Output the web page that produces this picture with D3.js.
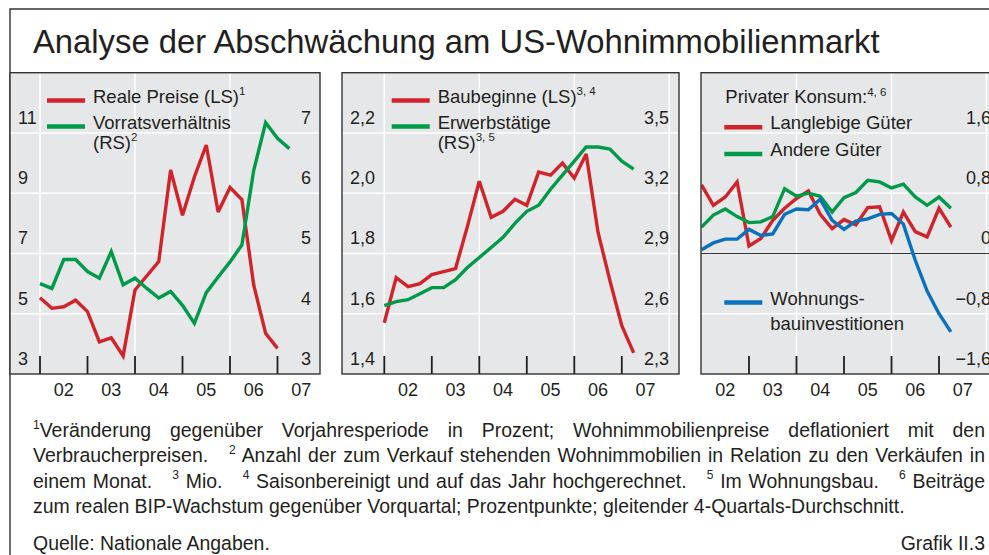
<!DOCTYPE html>
<html>
<head>
<meta charset="utf-8">
<script src="https://cdn.jsdelivr.net/npm/d3@7"></script>
<style>
  body { margin: 0; background: #fff; }
  svg text { font-family: "Liberation Sans", Arial, Helvetica, sans-serif; fill: #231f20; }
  svg text.fn { white-space: pre; }
</style>
</head>
<body>
<svg id="chart" width="989" height="555"></svg>
<script>
// quarterly observations, plotted at the start of each quarter
const quarters = ["2002Q1","2002Q2","2002Q3","2002Q4","2003Q1","2003Q2","2003Q3","2003Q4",
                  "2004Q1","2004Q2","2004Q3","2004Q4","2005Q1","2005Q2","2005Q3","2005Q4",
                  "2006Q1","2006Q2","2006Q3","2006Q4","2007Q1","2007Q2"];

// panel 1
const realePreise = [5.53,5.18,5.23,5.45,5.07,4.07,4.20,3.60,5.79,6.26,6.73,9.77,8.27,9.54,10.60,8.38,9.19,8.79,5.95,4.35,3.85];
const vorrat      = [4.50,4.42,4.90,4.90,4.70,4.59,5.03,4.48,4.59,4.42,4.26,4.37,4.14,3.84,4.35,4.61,4.86,5.14,6.38,7.17,6.91,6.74];
// panel 2
const baubeginne     = [1.57,1.72,1.69,1.70,1.73,1.74,1.75,1.89,2.04,1.92,1.94,1.98,1.96,2.07,2.06,2.10,2.05,2.13,1.87,1.71,1.56,1.47];
const erwerbstaetige = [2.64,2.66,2.67,2.70,2.73,2.73,2.77,2.83,2.88,2.93,2.98,3.05,3.11,3.14,3.22,3.29,3.36,3.43,3.43,3.42,3.36,3.32];
// panel 3
const langlebige = [0.91,0.64,0.75,0.95,0.10,0.20,0.44,0.60,0.73,0.83,0.52,0.33,0.45,0.38,0.61,0.62,0.17,0.55,0.29,0.22,0.60,0.35];
const andere     = [0.35,0.51,0.59,0.49,0.41,0.42,0.49,0.86,0.76,0.80,0.76,0.55,0.74,0.81,0.97,0.95,0.87,0.92,0.75,0.64,0.75,0.60];
const wohnbau    = [0.05,0.14,0.19,0.19,0.32,0.24,0.26,0.52,0.59,0.58,0.72,0.44,0.32,0.43,0.46,0.52,0.53,0.39,-0.09,-0.50,-0.80,-1.04];

// axes
const years = [2002, 2003, 2004, 2005, 2006, 2007];
const yearLabels = ["02", "03", "04", "05", "06", "07"];
const p1LeftTicks = [3, 5, 7, 9, 11], p1RightTicks = [3, 4, 5, 6, 7];
const p2LeftTicks = [1.4, 1.6, 1.8, 2.0, 2.2], p2RightTicks = [2.3, 2.6, 2.9, 3.2, 3.5];
const p3RightTicks = [-1.6, -0.8, 0, 0.8, 1.6];

const titleText = "Analyse der Abschwächung am US-Wohnimmobilienmarkt";
const footnotes = [
  [{sup: "1"}, {t: "Veränderung gegenüber Vorjahresperiode in Prozent; Wohnimmobilienpreise deflationiert mit den"}],
  [{t: "Verbraucherpreisen.   "}, {sup: "2"}, {t: " Anzahl der zum Verkauf stehenden Wohnimmobilien in Relation zu den Verkäufen in"}],
  [{t: "einem Monat.   "}, {sup: "3"}, {t: " Mio.   "}, {sup: "4"}, {t: " Saisonbereinigt und auf das Jahr hochgerechnet.   "}, {sup: "5"}, {t: " Im Wohnungsbau.   "}, {sup: "6"}, {t: " Beiträge"}],
  [{t: "zum realen BIP-Wachstum gegenüber Vorquartal; Prozentpunkte; gleitender 4-Quartals-Durchschnitt."}]
];
const sourceText = "Quelle: Nationale Angaben.";
const graphNo = "Grafik II.3";

// ---------------------------------------------------------------------------
const C = { red: "#d1232a", green: "#009a49", blue: "#0a71bd", ink: "#231f20", bg: "#e6e7e8", frame: "#333" };
const TOP = 72.7, BOTTOM = 374, YEAR_PX = 47.5, TICK_H = 18;
const tq = quarters.map(q => +q.slice(0, 4) + (+q.slice(5) - 1) / 4);

const de = d3.formatLocale({ decimal: ",", thousands: ".", grouping: [3], currency: ["", "€"], minus: "\u2212" });
const fInt = de.format("d"), fOne = de.format(".1f");
const fZero = v => v === 0 ? "0" : fOne(v);

const svg = d3.select("#chart");

// helper: text with raised superscripts
function rich(sel, parts, fs) {
  let raised = false;
  parts.forEach(p => {
    const ts = sel.append("tspan");
    if (p.sup) {
      ts.attr("font-size", fs * 0.62).attr("dy", raised ? 0 : -fs * 0.42).text(p.sup);
      raised = true;
    } else {
      ts.attr("dy", raised ? fs * 0.42 : 0).text(p.t);
      raised = false;
    }
  });
}

// outer frame (right and bottom edges are outside the picture)
svg.append("path")
  .attr("d", "M10,1000 V9 H1200")
  .attr("fill", "none").attr("stroke", C.frame).attr("stroke-width", 1.4);

// title, fitted to its width in the reference
const title = svg.append("text").attr("x", 33).attr("y", 53).attr("font-size", 30).text(titleText);
title.attr("font-size", 30 * 847 / title.node().getComputedTextLength());

const panels = [
  {
    x0: 10, x1: 320, x2002: 40, labelR: 311,
    left:  { domain: [3, 13], ticks: p1LeftTicks, fmt: fInt },
    right: { domain: [3, 8],  ticks: p1RightTicks, fmt: fInt },
    series: [
      { values: realePreise, axis: "left",  color: C.red },
      { values: vorrat,      axis: "right", color: C.green }
    ],
    legendX: 47,
    legend: [
      { color: C.red,   y: 102.5, lines: [[{t: "Reale Preise (LS)"}, {sup: "1"}]] },
      { color: C.green, y: 128.5, lines: [[{t: "Vorratsverhältnis"}], [{t: "(RS)"}, {sup: "2"}]], lead: 20 }
    ]
  },
  {
    x0: 342, x1: 679, x2002: 384.3, labelR: 669,
    left:  { domain: [1.4, 2.4], ticks: p2LeftTicks, fmt: fOne },
    right: { domain: [2.3, 3.8], ticks: p2RightTicks, fmt: fOne },
    series: [
      { values: baubeginne,     axis: "left",  color: C.red },
      { values: erwerbstaetige, axis: "right", color: C.green }
    ],
    legendX: 391.7,
    legend: [
      { color: C.red,   y: 102.5, lines: [[{t: "Baubeginne (LS)"}, {sup: "3, 4"}]] },
      { color: C.green, y: 128.5, lines: [[{t: "Erwerbstätige"}], [{t: "(RS)"}, {sup: "3, 5"}]], lead: 20 }
    ]
  },
  {
    x0: 701, x1: 1002, x2002: 701.5, labelR: 991,
    left: null,
    right: { domain: [-1.6, 2.4], ticks: p3RightTicks, fmt: fZero },
    zeroLine: true,
    series: [
      { values: langlebige, axis: "right", color: C.red },
      { values: andere,     axis: "right", color: C.green },
      { values: wohnbau,    axis: "right", color: C.blue }
    ],
    legendX: 724.3,
    legend: [
      { color: null,    y: 103.3, lines: [[{t: "Privater Konsum:"}, {sup: "4, 6"}]] },
      { color: C.red,   y: 129.3, lines: [[{t: "Langlebige Güter"}]] },
      { color: C.green, y: 156,   lines: [[{t: "Andere Güter"}]] },
      { color: C.blue,  y: 304.5, lines: [[{t: "Wohnungs-"}], [{t: "bauinvestitionen"}]], lead: 25.5 }
    ]
  }
];

panels.forEach((p, i) => {
  const g = svg.append("g");
  const x = d3.scaleLinear().domain([2002, 2008]).range([p.x2002, p.x2002 + 6 * YEAR_PX]);
  const yL = p.left ? d3.scaleLinear().domain(p.left.domain).range([BOTTOM, TOP]) : null;
  const yR = d3.scaleLinear().domain(p.right.domain).range([BOTTOM, TOP]);
  const inside = v => v > p.x0 + 2 && v < p.x1 - 2;

  g.append("rect").attr("x", p.x0).attr("y", TOP).attr("width", p.x1 - p.x0).attr("height", BOTTOM - TOP).attr("fill", C.bg);

  // horizontal grid (right axis ticks share positions with left ones)
  g.selectAll(".hg").data(p.right.ticks.slice(1)).join("line")
    .attr("x1", p.x0).attr("x2", p.x1)
    .attr("y1", d => yR(d)).attr("y2", d => yR(d))
    .attr("stroke", "#fff").attr("stroke-width", 1.5);

  // vertical grid on even years
  g.selectAll(".vg").data([2002, 2004, 2006, 2008].filter(d => inside(x(d)))).join("line")
    .attr("x1", d => x(d)).attr("x2", d => x(d))
    .attr("y1", TOP).attr("y2", BOTTOM - TICK_H)
    .attr("stroke", "#fff").attr("stroke-width", 1.5);

  if (p.zeroLine) {
    g.append("line").attr("x1", p.x0).attr("x2", p.x1).attr("y1", yR(0)).attr("y2", yR(0))
      .attr("stroke", C.frame).attr("stroke-width", 1.1);
  }

  // year ticks
  g.selectAll(".tk").data(years.filter(d => inside(x(d)))).join("line")
    .attr("x1", d => x(d)).attr("x2", d => x(d))
    .attr("y1", BOTTOM).attr("y2", BOTTOM - TICK_H)
    .attr("stroke", C.ink).attr("stroke-width", 1.8);

  // series
  const clipId = "clip" + i;
  g.append("clipPath").attr("id", clipId).append("rect")
    .attr("x", p.x0).attr("y", TOP).attr("width", p.x1 - p.x0).attr("height", BOTTOM - TOP);
  p.series.forEach(s => {
    const y = s.axis === "left" ? yL : yR;
    const line = d3.line().x((d, j) => x(tq[j])).y(d => y(d));
    g.append("path").datum(s.values)
      .attr("clip-path", `url(#${clipId})`)
      .attr("d", line)
      .attr("fill", "none").attr("stroke", s.color).attr("stroke-width", 3.4)
      .attr("stroke-linejoin", "miter").attr("stroke-miterlimit", 3);
  });

  // border
  g.append("rect").attr("x", p.x0).attr("y", TOP).attr("width", p.x1 - p.x0).attr("height", BOTTOM - TOP)
    .attr("fill", "none").attr("stroke", C.frame).attr("stroke-width", 1.4);

  // axis labels sit just above their grid line
  if (p.left) {
    g.selectAll(".yl").data(p.left.ticks).join("text")
      .attr("x", p.x0 + 8).attr("y", d => yL(d) - 9)
      .attr("font-size", 18).text(p.left.fmt);
  }
  g.selectAll(".yr").data(p.right.ticks).join("text")
    .attr("x", p.labelR).attr("y", d => yR(d) - 9)
    .attr("text-anchor", "end").attr("font-size", 18).text(p.right.fmt);

  g.selectAll(".xl").data(years).join("text")
    .attr("x", d => x(d + 0.5)).attr("y", 395.5)
    .attr("text-anchor", "middle").attr("font-size", 18)
    .text((d, j) => yearLabels[j]);

  // legend
  p.legend.forEach(item => {
    if (item.color) {
      g.append("line")
        .attr("x1", p.legendX).attr("x2", p.legendX + 38)
        .attr("y1", item.y - 2).attr("y2", item.y - 2)
        .attr("stroke", item.color).attr("stroke-width", 4.5);
    }
    item.lines.forEach((parts, k) => {
      const t = g.append("text")
        .attr("x", item.color ? p.legendX + 46 : p.legendX + 1)
        .attr("y", item.y + k * (item.lead || 0))
        .attr("font-size", 18.5);
      rich(t, parts, 18.5);
    });
  });
});

// footnotes: condensed by horizontal scaling; the last line sets the scale,
// the other lines are justified by word spacing
const FN_X0 = 33, FN_X1 = 985, FN_LAST_END = 905, FN_SIZE = 19.5;
const fnBase = [437, 462, 487.5, 513];
const probe = svg.append("text").attr("class", "fn").attr("font-size", FN_SIZE);
rich(probe, footnotes[3], FN_SIZE);
const sx = (FN_LAST_END - FN_X0) / probe.node().getComputedTextLength();
probe.remove();

footnotes.forEach((parts, i) => {
  const t = svg.append("text").attr("class", "fn")
    .attr("transform", `translate(${FN_X0},${fnBase[i]}) scale(${sx},1)`)
    .attr("font-size", FN_SIZE)
    .attr("xml:space", "preserve");
  rich(t, parts, FN_SIZE);
  if (i < footnotes.length - 1) {
    const natural = t.node().getComputedTextLength();
    const spaces = parts.map(p => (p.t || "").split(" ").length - 1).reduce((a, b) => a + b, 0);
    t.style("word-spacing", (((FN_X1 - FN_X0) / sx - natural) / spaces) + "px");
  }
});

svg.append("text").attr("class", "fn")
  .attr("transform", `translate(${FN_X0},549.5) scale(${sx},1)`)
  .attr("font-size", FN_SIZE).text(sourceText);
svg.append("text").attr("class", "fn")
  .attr("transform", `translate(${FN_X1},549.5) scale(${sx},1)`)
  .attr("text-anchor", "end").attr("font-size", FN_SIZE).text(graphNo);
</script>
</body>
</html>
